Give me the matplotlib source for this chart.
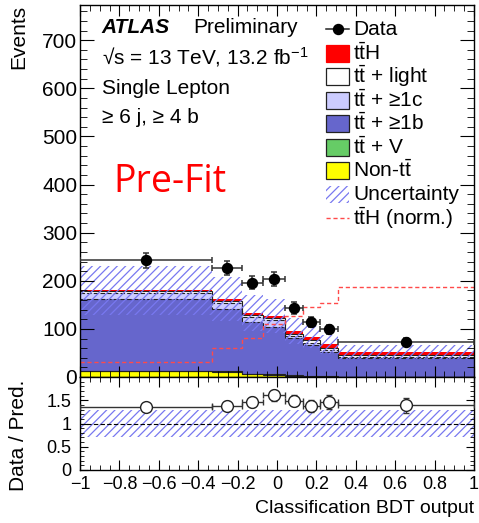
import numpy as np
import matplotlib
matplotlib.use("Agg")
import matplotlib.pyplot as plt
from matplotlib.patches import Rectangle
from matplotlib.lines import Line2D
from matplotlib.ticker import MultipleLocator, FuncFormatter

plt.rcParams['font.family'] = ['Liberation Sans', 'DejaVu Sans']
plt.rcParams['mathtext.fontset'] = 'custom'
plt.rcParams['mathtext.rm'] = 'Liberation Sans'
plt.rcParams['mathtext.it'] = 'Liberation Sans:italic'
plt.rcParams['mathtext.bf'] = 'Liberation Sans:bold'
plt.rcParams['hatch.linewidth'] = 0.9

# ── Data ──────────────────────────────────────────────────────────────────────
edges    = [-1.0, -0.33, -0.18, -0.07, 0.04, 0.13, 0.22, 0.31, 1.0]
data     = [243, 226, 196, 203, 143, 114, 99, 73]
non_tt   = [12, 11, 6, 5, 1.5, 1, 0.6, 0.4]
tt_V     = [1, 1, 1, 1, 2, 2, 1, 0.6]
tt_b     = [149, 129, 106.6, 98.5, 77, 63.5, 51, 38]
tt_c     = [13, 12, 10.5, 14, 5.5, 5, 4, 3.5]
tt_light = [4, 5, 5, 3.5, 3.5, 5, 4, 3.5]
ttH      = [1, 5, 4.5, 4.7, 6.3, 6.8, 7, 6.5]
ttH_norm = [31, 61, 82, 110, 126, 146, 153, 188]
rel_unc  = [0.28, 0.28, 0.28, 0.28, 0.28, 0.28, 0.28, 0.28]

TTBAR = r'$\mathrm{t\bar{t}}$'
components = [
    ("Non-" + TTBAR,           non_tt,   "#ffff00", "-"),
    (TTBAR + " + V",           tt_V,     "#66cc66", "-"),
    (TTBAR + " + \u22651b",    tt_b,     "#6666cc", (0, (4, 2))),
    (TTBAR + " + \u22651c",    tt_c,     "#ccccff", (0, (4, 2))),
    (TTBAR + " + light",       tt_light, "#ffffff", "-"),
    (r'$\mathrm{t\bar{t}H}$',  ttH,      "#ff0000", "-"),
]
HATCH_C = "#7878f0"

edges   = np.array(edges)
centers = 0.5 * (edges[1:] + edges[:-1])
halfw   = 0.5 * (edges[1:] - edges[:-1])
data    = np.array(data, dtype=float)

# ── Figure ────────────────────────────────────────────────────────────────────
W, H = 479, 523
fig = plt.figure(figsize=(W / 100, H / 100), dpi=100)
AX_L, AX_R = 80, 474
MAIN_T, MAIN_B, RAT_B = 5, 377, 470
ax  = fig.add_axes([AX_L / W, 1 - MAIN_B / H, (AX_R - AX_L) / W, (MAIN_B - MAIN_T) / H])
rax = fig.add_axes([AX_L / W, 1 - RAT_B / H, (AX_R - AX_L) / W, (RAT_B - MAIN_B) / H],
                   sharex=ax)

# stack
bottom = np.zeros(len(centers))
for name, vals, col, ls in components:
    top = bottom + np.array(vals)
    ax.stairs(top, edges, baseline=bottom, fill=True, color=col, lw=0)
    bottom = top
bottom = np.zeros(len(centers))
for name, vals, col, ls in components:
    top = bottom + np.array(vals)
    if col != "#ff0000":
        ax.stairs(top, edges, baseline=None, color="#222222", lw=0.8, ls=ls)
    bottom = top
pred = bottom

unc = np.array(rel_unc)
lo, hi = pred * (1 - unc), pred * (1 + unc)
ax.fill_between(edges, np.append(lo, lo[-1]), np.append(hi, hi[-1]), step="post",
                facecolor="none", edgecolor=HATCH_C, hatch="////", lw=0)

ax.stairs(ttH_norm, edges, baseline=None, color="#ff4a4a", lw=1.0, ls=(0, (3, 2)))

ax.errorbar(centers, data, xerr=halfw, yerr=np.sqrt(data), fmt="o", color="black",
            ecolor="#333333", ms=7.2, elinewidth=1.1, capsize=2.5, capthick=1.1, zorder=5)

ax.set_xlim(-1, 1)
ax.set_ylim(0, 773)

# ratio
ratio = data / pred
rerr  = np.sqrt(data) / pred
rax.fill_between(edges, np.append(1 - unc, 1 - unc[-1]), np.append(1 + unc, 1 + unc[-1]),
                 step="post", facecolor="none", edgecolor=HATCH_C, hatch="////", lw=0)
rax.axhline(1, color="black", lw=0.8, ls=(0, (4, 2)))
rax.errorbar(centers, ratio, xerr=halfw, yerr=rerr, fmt="o", color="#333333",
             mfc="white", mec="#222222", ms=8.5, elinewidth=1.0, capsize=2.5, zorder=5)
rax.set_ylim(0, 2)

# ── Ticks / labels ────────────────────────────────────────────────────────────
minus = FuncFormatter(lambda v, _: ("%g" % round(v, 2)).replace("-", "\u2212"))
for a in (ax, rax):
    a.xaxis.set_major_locator(MultipleLocator(0.2))
    a.xaxis.set_minor_locator(MultipleLocator(0.05))
    a.tick_params(which="both", direction="in", top=True, right=True)
    for s in a.spines.values():
        s.set_linewidth(1.0)

ax.yaxis.set_major_locator(MultipleLocator(100))
ax.yaxis.set_minor_locator(MultipleLocator(20))
ax.tick_params(axis="y", which="major", length=10, labelsize=15, pad=2)
ax.tick_params(axis="y", which="minor", length=5)
ax.tick_params(axis="x", which="major", length=8, labelbottom=False)
ax.tick_params(axis="x", which="minor", length=4)

rax.set_yticks([0, 0.5, 1, 1.5])
rax.yaxis.set_minor_locator(MultipleLocator(0.1))
rax.yaxis.set_major_formatter(FuncFormatter(lambda v, _: "%g" % v))
rax.xaxis.set_major_formatter(minus)
rax.tick_params(axis="y", which="major", length=6, labelsize=13, pad=6)
rax.tick_params(axis="y", which="minor", length=3)
rax.tick_params(axis="x", which="major", length=7, labelsize=13, pad=4)
rax.tick_params(axis="x", which="minor", length=3.5)

ax.set_ylabel("Events", fontsize=15, loc="top")
ax.yaxis.set_label_coords(-0.131, 1.0)
rax.set_ylabel("Data / Pred.", fontsize=15, loc="top")
rax.yaxis.set_label_coords(-0.131, 0.97)
rax.set_xlabel("Classification BDT output", fontsize=14, loc="right")
rax.xaxis.set_label_coords(1.0, -0.32)


def axc(px, py):
    return (px - AX_L) / (AX_R - AX_L), 1 - (py - MAIN_T) / (MAIN_B - MAIN_T)


# ── Annotations ───────────────────────────────────────────────────────────────
ax.text(*axc(101.7, 33.3), "ATLAS", fontsize=15, fontweight="bold", fontstyle="italic",
        transform=ax.transAxes, va="baseline")
ax.text(*axc(193.3, 33.3), "Preliminary", fontsize=15, transform=ax.transAxes, va="baseline")
ax.text(*axc(101.7, 64.3), "\u221as = 13 TeV, 13.2 fb$^{-1}$", fontsize=15,
        transform=ax.transAxes, va="baseline")
ax.text(*axc(101.7, 94.3), "Single Lepton", fontsize=15, transform=ax.transAxes, va="baseline")
ax.text(*axc(101.7, 123.3), "\u2265 6 j, \u2265 4 b", fontsize=15,
        transform=ax.transAxes, va="baseline")
ax.text(*axc(113, 191.7), "Pre-Fit", fontsize=27, color="red", family="Open Sans",
        transform=ax.transAxes, va="baseline")

# ── Legend (drawn by hand to match ROOT spacing) ──────────────────────────────
BX0, BX1, TX, BH = 326, 349, 353, 17
rows = [29.3, 53, 76.5, 100, 123.5, 147, 170.5, 194, 218]
bw = (BX1 - BX0) / (AX_R - AX_L)
bh = BH / (MAIN_B - MAIN_T)

# Data
x0, y0 = axc(BX0, rows[0])
x1, _ = axc(BX1, rows[0])
ax.add_line(Line2D([x0, x1], [y0, y0], color="#222222", lw=1.1, transform=ax.transAxes, clip_on=False))
ax.add_line(Line2D([(x0 + x1) / 2], [y0], marker="o", ms=7.2, color="black",
                   transform=ax.transAxes, clip_on=False))
ax.text(*axc(TX, rows[0]), "Data", fontsize=15, transform=ax.transAxes, va="center")

for i, (name, vals, col, ls) in enumerate(reversed(components)):
    py = rows[i + 1]
    x0, y0 = axc(BX0, py)
    ec = col if col == "#ff0000" else "#222222"
    ax.add_patch(Rectangle((x0, y0 - bh / 2), bw, bh, facecolor=col, edgecolor=ec, lw=0.9,
                           transform=ax.transAxes, clip_on=False))
    ax.text(*axc(TX, py), name, fontsize=15, transform=ax.transAxes, va="center")

x0, y0 = axc(BX0, rows[7])
ax.add_patch(Rectangle((x0, y0 - bh / 2), bw, bh, facecolor="none", edgecolor=HATCH_C,
                       hatch="////", lw=0, transform=ax.transAxes, clip_on=False))
ax.text(*axc(TX, rows[7]), "Uncertainty", fontsize=15, transform=ax.transAxes, va="center")

x0, y0 = axc(BX0, rows[8])
ax.add_line(Line2D([x0, x0 + bw], [y0, y0], color="#ff4a4a", lw=1.0, ls=(0, (3, 2)),
                   transform=ax.transAxes, clip_on=False))
ax.text(*axc(TX, rows[8]), r'$\mathrm{t\bar{t}H}$ (norm.)', fontsize=15,
        transform=ax.transAxes, va="center")

fig.savefig("out.png", dpi=100)
